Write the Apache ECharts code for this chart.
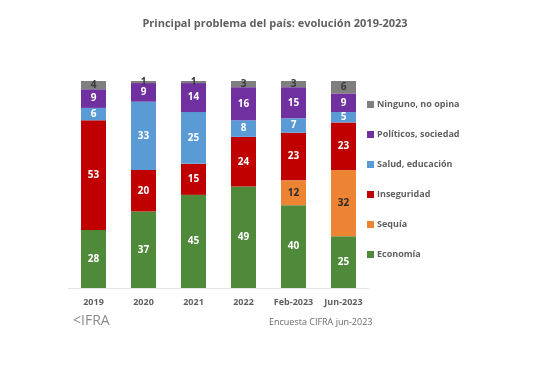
<!DOCTYPE html>
<html>
<head>
<meta charset="utf-8">
<script src="https://cdn.jsdelivr.net/npm/echarts@6/dist/echarts.min.js"></script>
<style>
  html, body { margin: 0; padding: 0; background: #fff; }
  #chart { width: 555px; height: 375px; }
</style>
</head>
<body>
<div id="chart"></div>
<script>
var years = ['2019', '2020', '2021', '2022', 'Feb-2023', 'Jun-2023'];
var economia = [28, 37, 45, 49, 40, 25];
var sequia = [0, 0, 0, 0, 12, 32];
var inseguridad = [53, 20, 15, 24, 23, 23];
var salud = [6, 33, 25, 8, 7, 5];
var politicos = [9, 9, 14, 16, 15, 9];
var ninguno = [4, 1, 1, 3, 3, 6];

var font = 'Open Sans';

function serie(name, data, color, labelColor) {
  return {
    name: name,
    type: 'bar',
    stack: 'total',
    barWidth: 25,
    data: data,
    itemStyle: { color: color },
    label: {
      show: true,
      position: 'inside',
      color: labelColor,
      fontFamily: font,
      fontWeight: 'bold',
      fontSize: 10,
      formatter: function (p) { return p.value > 0 ? p.value : ''; }
    }
  };
}

var chart = echarts.init(document.getElementById('chart'));
var option = {
  backgroundColor: '#fff',
  animation: false,
  title: {
    text: 'Principal problema del país: evolución 2019-2023',
    left: 270,
    textAlign: 'center',
    top: 13,
    textStyle: { fontFamily: font, fontSize: 11, fontWeight: 'bold', color: '#5f5f5f' }
  },
  legend: {
    orient: 'vertical',
    left: 362,
    top: 95,
    itemWidth: 7,
    itemHeight: 7,
    itemGap: 21,
    icon: 'rect',
    data: ['Ninguno, no opina', 'Políticos, sociedad', 'Salud, educación', 'Inseguridad', 'Sequía', 'Economía'],
    textStyle: { fontFamily: font, fontSize: 9, fontWeight: 'bold', color: '#5f5f5f', padding: [0, 0, 0, -2] }
  },
  grid: { left: 68.5, width: 300, top: 81, bottom: 87 },
  xAxis: {
    type: 'category',
    data: years,
    axisLine: { lineStyle: { color: '#e4e4e4' } },
    axisTick: { show: false },
    axisLabel: { interval: 0, fontFamily: font, fontSize: 9, fontWeight: 'bold', color: '#5f5f5f', margin: 10 }
  },
  yAxis: {
    type: 'value',
    min: 0,
    max: 100,
    show: false
  },
  series: [
    serie('Economía', economia, '#4f8a3a', '#ffffff'),
    serie('Sequía', sequia, '#ed8433', '#2a2a2a'),
    serie('Inseguridad', inseguridad, '#c00000', '#ffffff'),
    serie('Salud, educación', salud, '#5b9bd5', '#ffffff'),
    serie('Políticos, sociedad', politicos, '#7030a0', '#ffffff'),
    serie('Ninguno, no opina', ninguno, '#7f7f7f', '#3a3a3a')
  ],
  graphic: [
    {
      type: 'text',
      left: 73,
      top: 314,
      style: { text: '<IFRA', fontFamily: font, fontSize: 14, fill: '#8a8a8a' }
    },
    {
      type: 'text',
      left: 269,
      top: 318,
      style: { text: 'Encuesta CIFRA jun-2023', fontFamily: font, fontSize: 9, fill: '#6a6a6a', textAlign: 'center' }
    }
  ]
};
chart.setOption(option);
</script>
</body>
</html>
